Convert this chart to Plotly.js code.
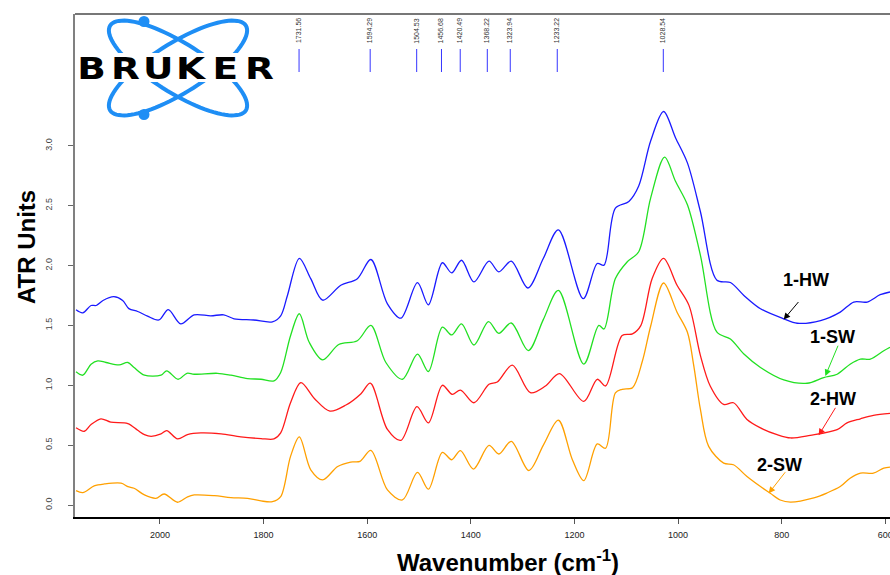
<!DOCTYPE html>
<html>
<head>
<meta charset="utf-8">
<script src="https://cdn.plot.ly/plotly-3.0.1.min.js"></script>
<style>html,body{margin:0;padding:0;background:#fff;}#chart{width:890px;height:575px;}</style>
</head>
<body>
<div id="chart"></div>
<script>
// ---- Data ----
const wn_1HW = [2162,2149,2133,2123,2110,2089,2072,2060,2043,2024,2002,1984,1960,1934,1902,1877,1857,1819,1783,1767,1754,1731,1709,1686,1651,1619,1593,1561,1535,1503,1482,1455,1437,1418,1394,1365,1346,1322,1290,1260,1231,1183,1156,1143,1121,1095,1076,1053,1028,1005,982,957,925,899,873,841,796,770,725,687,661,635,610,591];
const ab_1HW = [1.63,1.605,1.666,1.666,1.708,1.74,1.708,1.64,1.616,1.577,1.545,1.632,1.513,1.588,1.58,1.588,1.555,1.545,1.53,1.58,1.75,2.06,1.89,1.71,1.835,1.89,2.05,1.68,1.56,1.857,1.672,2.023,1.938,2.044,1.863,2.036,1.947,2.036,1.812,2.06,2.297,1.723,2.017,2.003,2.479,2.535,2.664,3.039,3.286,3.067,2.857,2.451,1.877,1.858,1.75,1.639,1.555,1.518,1.54,1.611,1.695,1.695,1.756,1.779];

const wn_1SW = [2162,2149,2133,2120,2104,2079,2062,2050,2030,1998,1987,1965,1948,1934,1889,1863,1831,1805,1780,1767,1748,1731,1712,1686,1655,1619,1593,1564,1532,1503,1482,1455,1437,1418,1394,1366,1346,1322,1289,1260,1231,1182,1153,1143,1121,1098,1076,1053,1026,1005,982,957,925,899,873,841,796,751,719,693,668,648,629,603,591];
const ab_1SW = [1.112,1.084,1.176,1.204,1.19,1.17,1.19,1.148,1.084,1.084,1.12,1.05,1.1,1.092,1.1,1.084,1.056,1.05,1.036,1.107,1.414,1.597,1.359,1.212,1.34,1.372,1.5,1.19,1.05,1.26,1.115,1.485,1.42,1.513,1.336,1.532,1.434,1.52,1.29,1.55,1.792,1.177,1.5,1.47,1.891,2.031,2.115,2.563,2.905,2.703,2.507,2.087,1.443,1.387,1.261,1.149,1.045,1.017,1.064,1.092,1.176,1.218,1.218,1.288,1.317];

const wn_2HW = [2162,2146,2133,2114,2095,2062,2043,2030,2017,1998,1987,1966,1947,1921,1882,1844,1805,1780,1767,1748,1728,1702,1672,1641,1612,1594,1561,1535,1504,1482,1455,1436,1420,1394,1365,1349,1320,1285,1256,1229,1182,1156,1140,1108,1088,1072,1050,1028,1002,979,957,938,912,893,867,841,809,783,745,693,674,648,623,591];
const ab_2HW = [0.645,0.616,0.672,0.72,0.692,0.68,0.624,0.588,0.574,0.594,0.622,0.552,0.588,0.602,0.594,0.569,0.555,0.552,0.602,0.854,1.022,0.89,0.784,0.835,0.93,1.017,0.631,0.54,0.821,0.686,1.0,0.924,0.96,0.854,1.008,1.027,1.168,0.938,0.994,1.098,0.865,1.05,0.994,1.415,1.429,1.498,1.891,2.059,1.835,1.667,1.25,0.994,0.84,0.854,0.714,0.644,0.588,0.56,0.582,0.63,0.686,0.72,0.748,0.765];

const wn_2SW = [2162,2149,2127,2107,2075,2062,2050,2030,2008,1992,1966,1948,1934,1895,1863,1831,1805,1783,1767,1748,1731,1709,1686,1657,1632,1614,1593,1561,1532,1503,1482,1455,1437,1420,1395,1365,1346,1322,1288,1260,1231,1204,1182,1156,1140,1121,1108,1088,1069,1053,1028,1002,982,970,957,941,912,893,867,841,822,803,783,738,713,687,668,648,623,603,591];
const ab_2SW = [0.12,0.103,0.16,0.176,0.182,0.154,0.14,0.084,0.056,0.092,0.023,0.065,0.084,0.078,0.061,0.056,0.034,0.028,0.07,0.406,0.569,0.294,0.21,0.322,0.359,0.364,0.456,0.126,0.042,0.272,0.132,0.44,0.378,0.454,0.3,0.498,0.426,0.532,0.288,0.5,0.708,0.378,0.204,0.51,0.474,0.936,0.966,0.98,1.2,1.493,1.854,1.61,1.442,1.17,0.8,0.49,0.35,0.336,0.238,0.154,0.098,0.042,0.025,0.06,0.1,0.154,0.224,0.266,0.266,0.308,0.317];

const seriesNames  = ['1-HW','1-SW','2-HW','2-SW'];
const seriesColors = ['#1a1aff','#22e022','#ff1a1a','#ffa000'];
const arrowColors  = ['#000000','#22e022','#ff1a1a','#ffa000'];
// label text centre (wavenumber, ATR) and arrow tip (wavenumber, ATR)
const labelWn  = [752.8, 702.9, 701.7, 804.9];
const labelAtr = [1.876, 1.405, 0.885, 0.334];
const tipWn    = [796.2, 715.8, 728.7, 825.1];
const tipAtr   = [1.549, 1.078, 0.582, 0.098];

const peakWn   = [1731.56,1594.29,1504.53,1456.68,1420.49,1368.22,1323.94,1233.22,1028.54];
const peakText = ['1731.56','1594.29','1504.53','1456.68','1420.49','1368.22','1323.94','1233.22','1028.54'];

const xTicks = [2000,1800,1600,1400,1200,1000,800,600];
const yTicks = [0,0.5,1,1.5,2,2.5,3];
const yTickText = ['0.0','0.5','1.0','1.5','2.0','2.5','3.0'];

const logoLetters = ['B','R','U','K','E','R'];

// ---- geometry helpers (plot area in pixels) ----
const L = 75, T = 14, PW = 815, PH = 503;
const px = x => (x - L) / PW;
const py = y => (T + PH - y) / PH;
function ellipsePath(cx, cy, a, b, deg) {
  const th = deg * Math.PI / 180;
  let d = '';
  for (let i = 0; i <= 90; i++) {
    const t = i / 90 * 2 * Math.PI;
    const x = cx + a * Math.cos(t) * Math.cos(th) - b * Math.sin(t) * Math.sin(th);
    const y = cy + a * Math.cos(t) * Math.sin(th) + b * Math.sin(t) * Math.cos(th);
    d += (i ? 'L' : 'M') + px(x).toFixed(5) + ',' + py(y).toFixed(5);
  }
  return d + 'Z';
}

const wnSets = [wn_1HW, wn_1SW, wn_2HW, wn_2SW];
const abSets = [ab_1HW, ab_1SW, ab_2HW, ab_2SW];
const traces = seriesNames.map((n, i) => ({
  x: wnSets[i], y: abSets[i], name: n, type: 'scatter', mode: 'lines',
  line: {color: seriesColors[i], width: 1.3, shape: 'spline', smoothing: 0.9},
  hoverinfo: 'skip'
}));

const shapes = [];
const annotations = [];
const C = {xanchor:'center', yanchor:'middle'};

// top frame line
shapes.push({type:'line', xref:'paper', yref:'paper', x0:0, x1:1, y0:1, y1:1, line:{color:'#777', width:2}});

// peak marker lines
peakWn.forEach(w => {
  shapes.push({type:'line', xref:'x', yref:'paper', x0:w, x1:w, y0:py(72), y1:py(49), line:{color:'#3535ff', width:1}});
});
peakText.forEach((t, i) => {
  annotations.push(Object.assign({x: peakWn[i], xref:'x', y: py(31), yref:'paper', text: t, showarrow:false,
    textangle:-90, font:{family:'Liberation Sans, Arial, sans-serif', size:7, color:'#333'}}, C));
});

// logo: orbits, white band, dots
const logoBlue = '#1e8ef5';
shapes.push({type:'path', xref:'paper', yref:'paper', path: ellipsePath(178, 68, 80, 25, 32), line:{color:logoBlue, width:4}});
shapes.push({type:'path', xref:'paper', yref:'paper', path: ellipsePath(178, 68, 80, 25, -32), line:{color:logoBlue, width:4}});
shapes.push({type:'rect', xref:'paper', yref:'paper', x0:px(76), x1:px(277), y0:py(82), y1:py(53), fillcolor:'#fff', line:{width:0}});
shapes.push({type:'circle', xref:'paper', yref:'paper', x0:px(138.5), x1:px(149.5), y0:py(27), y1:py(16), fillcolor:logoBlue, line:{width:0}});
shapes.push({type:'circle', xref:'paper', yref:'paper', x0:px(138.5), x1:px(149.5), y0:py(120), y1:py(109), fillcolor:logoBlue, line:{width:0}});
const letterCx = [91.5, 125.7, 158.2, 191.5, 225.7, 259];
const logoIdx = [];
logoLetters.forEach((c, i) => {
  logoIdx.push(annotations.length);
  annotations.push(Object.assign({x: px(letterCx[i]), y: py(68.5), xref:'paper', yref:'paper', text:'<b>'+c+'</b>', showarrow:false,
    font:{family:'DejaVu Sans, sans-serif', size:30, color:'#000'}}, C));
});

// sample labels + arrows
seriesNames.forEach((n, i) => {
  annotations.push(Object.assign({x: labelWn[i], y: labelAtr[i], xref:'x', yref:'y', text:'<b>'+n+'</b>', showarrow:false,
    font:{family:'Liberation Sans, Arial, sans-serif', size:18, color:'#000'}}, C));
});
const axOff = [16, 13.3, 17.7, 17.7];
const ayOff = [-19, -31.7, -29, -22.6];
seriesNames.forEach((n, i) => {
  annotations.push({x: tipWn[i], y: tipAtr[i], xref:'x', yref:'y', text:'', showarrow:true,
    ax: axOff[i], ay: ayOff[i], arrowhead:2, arrowsize:1.3, arrowwidth:1, arrowcolor: arrowColors[i], standoff:0});
});

// axis titles
annotations.push(Object.assign({x: px(508), y: py(561), xref:'paper', yref:'paper', text:'<b>Wavenumber (cm<sup>-1</sup>)</b>', showarrow:false,
  font:{family:'Liberation Sans, Arial, sans-serif', size:24, color:'#000'}}, C));
annotations.push(Object.assign({x: px(26), y: py(247), xref:'paper', yref:'paper', text:'<b>ATR Units</b>', showarrow:false, textangle:-90,
  font:{family:'Liberation Sans, Arial, sans-serif', size:24, color:'#000'}}, C));

const layout = {
  width: 890, height: 575,
  margin: {l: L, r: 0, t: T, b: 575 - T - PH},
  paper_bgcolor: '#fff', plot_bgcolor: '#fff',
  showlegend: false,
  xaxis: {range: [2164, 591], tickvals: xTicks, ticktext: xTicks.map(String), ticks:'outside', ticklen:5, tickcolor:'#555', tickwidth:1,
    tickfont:{family:'Liberation Sans, Arial, sans-serif', size:9, color:'#222'}, showline:true, linecolor:'#000', linewidth:1.5,
    showgrid:false, zeroline:false, ticklabeloverflow:'allow', ticklabelstandoff:4, fixedrange:true},
  yaxis: {range: [-0.10, 4.10], tickvals: yTicks, ticktext: yTickText, ticks:'outside', ticklen:5, tickcolor:'#666', tickwidth:1,
    tickangle:-90, tickfont:{family:'Liberation Sans, Arial, sans-serif', size:9, color:'#444'}, showline:true, linecolor:'#808080', linewidth:2,
    showgrid:false, zeroline:false, ticklabelstandoff:12, fixedrange:true},
  shapes: shapes,
  annotations: annotations
};

Plotly.newPlot('chart', traces, layout, {staticPlot: true, displayModeBar: false}).then(gd => {
  // widen the logo letters to the extended Bruker lettering
  gd.querySelectorAll('.annotation').forEach(g => {
    const idx = +g.getAttribute('data-index');
    if (logoIdx.indexOf(idx) >= 0) {
      const t = g.querySelector('.annotation-text');
      if (t) {
        t.style.transformBox = 'fill-box';
        t.style.transformOrigin = 'center';
        t.style.transform = 'scaleX(1.25)';
      }
    }
  });
});
</script>
</body>
</html>
